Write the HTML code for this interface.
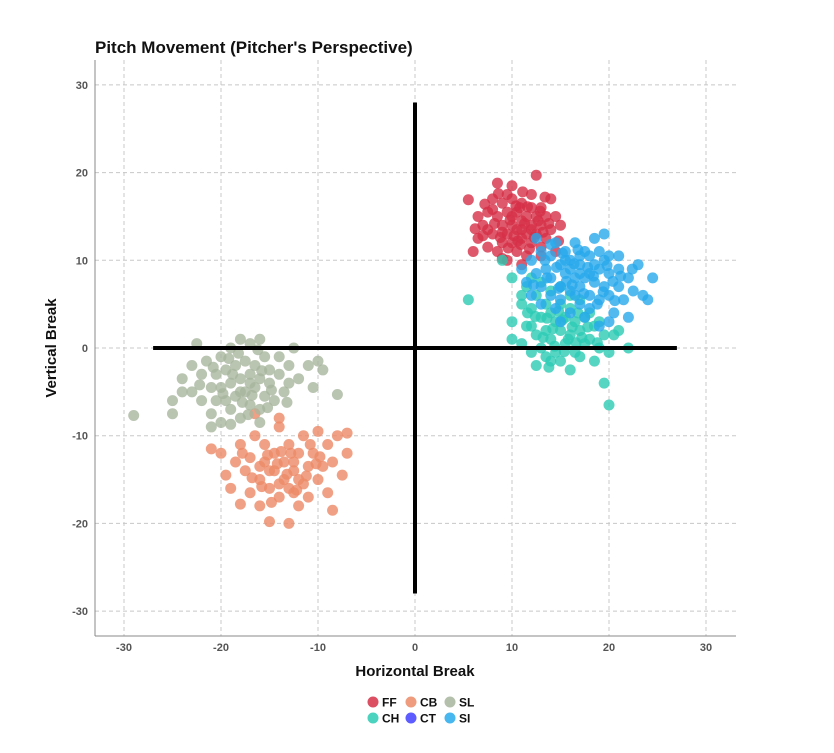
<!DOCTYPE html>
<html><head><meta charset="utf-8"><style>
body{margin:0;background:#fff;font-family:"Liberation Sans",sans-serif}
svg text{font-family:"Liberation Sans",sans-serif}
</style></head><body>
<svg id="chart" width="834" height="748" xmlns="http://www.w3.org/2000/svg">
<text x="95" y="53" font-size="17" font-weight="bold" fill="#111">Pitch Movement (Pitcher's Perspective)</text>
<g id="grid"></g>
<g id="axes"></g>
<g id="marks"></g>
<g id="zero"></g>
<text x="415" y="676" font-size="15" font-weight="bold" text-anchor="middle" fill="#111">Horizontal Break</text>
<text transform="translate(56,348) rotate(-90)" font-size="15" font-weight="bold" text-anchor="middle" fill="#111">Vertical Break</text>
<g id="legend"></g>
</svg>
<script>
const xTicks=[-30,-20,-10,0,10,20,30];
const yTicks=[-30,-20,-10,0,10,20,30];
const pitchTypes=["FF","CB","SL","CH","CT","SI"];
const pitchColors={FF:"#d62f47",CB:"#ec8a66",SL:"#a8b59e",CH:"#2ccbb4",CT:"#4040ff",SI:"#28a9ec"};
const ffData=[[5.5,16.9],[6,11],[6.5,12.5],[7,14],[7.5,15.5],[7.5,11.5],[8,13],[8,17],[8.5,18.8],[8.5,15],[9,12],[9,14],[9,16.5],[9.5,10],[9.5,13],[9.5,15.5],[10,12],[10,14],[10,17],[10,18.5],[10.5,11],[10.5,13.5],[10.5,15.5],[11,12.5],[11,14.5],[11,16.5],[11.5,10.5],[11.5,13],[11.5,15],[12,12],[12,14],[12,16],[12,17.5],[12.5,13],[12.5,15],[12.5,19.7],[13,11.5],[13,14],[13,16],[13.5,12.5],[13.5,15],[14,13.5],[14,17],[14.5,11],[14.5,15],[7,12.8],[8.5,11],[9,10.2],[11,9.5],[13,10.5],[6.5,15],[8,15.8],[10,15],[11,13.5],[12,13.5],[9.5,17.5],[15,14],[7.5,13.5],[10.8,16],[11.8,11.3],[9,13.2],[10.2,12.8],[11.3,14.2],[12.7,14.5],[8.2,14.2],[8.8,12.6],[9.6,11.4],[9.8,14.6],[10.4,16.2],[10.9,11.8],[11.6,16.1],[12.3,12.6],[13.2,13.2],[13.8,14.2],[7.2,16.4],[6.2,13.6],[8.6,17.6],[11.1,17.8],[13.4,17.2],[14.8,12.2],[12.9,15.6],[10.6,12.2]];
const cbData=[[-21,-11.5],[-20,-12],[-19.5,-14.5],[-19,-16],[-18.5,-13],[-18,-17.8],[-18,-11],[-17.5,-14],[-17,-16.5],[-17,-12.5],[-16.5,-10],[-16,-15],[-16,-18],[-15.5,-13],[-15.5,-11],[-15,-16],[-15,-19.8],[-14.5,-14],[-14.5,-12],[-14,-17],[-14,-9],[-13.5,-15],[-13.5,-13],[-13,-20],[-13,-11],[-12.5,-16.5],[-12.5,-14],[-12,-12],[-12,-18],[-11.5,-15.5],[-11.5,-10],[-11,-13.5],[-11,-17],[-10.5,-12],[-10,-15],[-10,-9.5],[-9.5,-13.5],[-9,-16.5],[-9,-11],[-8.5,-18.5],[-8.5,-13],[-8,-10],[-7.5,-14.5],[-7,-12],[-7,-9.7],[-16.5,-7.5],[-14,-8],[-12,-15],[-14,-15.5],[-15,-14],[-13,-16],[-16,-13.5],[-12.5,-13],[-15.2,-12.2],[-14.2,-13.2],[-13.2,-14.4],[-12.2,-16.2],[-11.2,-14.6],[-10.2,-13.2],[-13.8,-11.8],[-15.8,-15.8],[-16.8,-14.8],[-17.8,-12],[-14.8,-17.6],[-12.8,-12],[-10.8,-11],[-9.8,-12.4]];
const slData=[[-29,-7.7],[-25,-7.5],[-25,-6],[-24,-3.5],[-24,-5],[-23,-2],[-22.5,0.5],[-22,-3],[-22,-6],[-21.5,-1.5],[-21,-4.5],[-21,-7.5],[-20.5,-3],[-20.5,-6],[-20,-1],[-20,-4.5],[-20,-8.5],[-19.5,-2.5],[-19.5,-6],[-19,0],[-19,-4],[-19,-7],[-18.5,-2],[-18.5,-5.5],[-18,1],[-18,-3.5],[-18,-8],[-17.5,-1.5],[-17.5,-5],[-17,0.5],[-17,-3],[-17,-6.5],[-16.5,-2],[-16.5,-4.5],[-16,1],[-16,-3.5],[-16,-7],[-15.5,-1],[-15.5,-5.5],[-15,-2.5],[-15,-4],[-14.5,-6],[-14,-1],[-14,-3],[-13.5,-5],[-13,-2],[-13,-4],[-12.5,0],[-12,-3.5],[-11,-2],[-10.5,-4.5],[-10,-1.5],[-9.5,-2.5],[-8,-5.3],[-21,-9],[-16,-8.5],[-23,-5],[-19,-8.7],[-18,-5],[-17,-4],[-19.8,-5.2],[-18.8,-3],[-17.8,-6.2],[-16.8,-5.4],[-15.8,-2.6],[-14.8,-4.8],[-20.8,-2.2],[-18.2,-0.6],[-16.2,-0.2],[-22.2,-4.2],[-19.2,-1.2],[-17.2,-7.6],[-15.2,-6.8],[-13.2,-6.2]];
const chData=[[9,10],[5.5,5.5],[10,3],[10,1],[11,5],[11,0.5],[11.5,7],[11.5,2.5],[12,4.5],[12,-0.5],[12.5,6],[12.5,1.5],[12.5,-2],[13,3.5],[13,0],[13.5,5],[13.5,2],[13.5,-1],[14,4],[14,1],[14,6.5],[14.5,3],[14.5,-0.5],[15,5],[15,2],[15,-1.5],[15.5,3.5],[15.5,0.5],[16,4.5],[16,1.5],[16,-2.5],[16.5,3],[16.5,-0.5],[17,5.5],[17,2],[17,-1],[17.5,3.5],[17.5,0.5],[18,4],[18,1],[18.5,2.5],[18.5,-1.5],[19,3],[19,0],[19.5,-4],[19.5,1.5],[20,-6.5],[20,-0.5],[20.5,1.5],[21,2],[22,0],[10,8],[11,6],[12,8],[13,7.5],[14,-1.5],[16,6],[15,7],[12,2.5],[14.2,2.2],[15.2,3.2],[16.2,2.4],[13.6,3.4],[14.8,4.2],[15.8,1],[16.8,4],[17.2,1.2],[13.2,1.2],[12.4,3.6],[15.4,-0.4],[16.6,0.6],[14.4,0.2],[11.6,4],[13.8,-2.2],[17.8,2.4],[18.8,0.6]];
const ctData=[];
const siData=[[11,9],[11.5,7.5],[12,10],[12,6],[12.5,8.5],[13,11],[13,7],[13,5],[13.5,9],[14,10.5],[14,8],[14,6],[14.5,12],[14.5,4.5],[15,9.5],[15,7],[15,5.5],[15.5,11],[15.5,8.5],[16,10],[16,6.5],[16,4],[16.5,12],[16.5,8],[17,9.5],[17,7],[17,5],[17.5,11],[17.5,3.5],[18,8.5],[18,6],[18,10.5],[18.5,12.5],[18.5,7.5],[19,9],[19,5.5],[19,11],[19.5,13],[19.5,7],[20,8.5],[20,6],[20,10.5],[20.5,4],[21,9],[21,7],[21.5,5.5],[22,8],[22,3.5],[23,9.5],[23.5,6],[24,5.5],[24.5,8],[16,9],[17,10.5],[18,4.5],[15,3],[19,2.5],[20,3],[14,11.8],[12.5,12.5],[21,10.5],[22.5,6.5],[16.5,6],[17.5,8],[18.5,9.5],[15.5,10],[17,8.5],[19.5,10],[14.6,9.2],[15.6,7.6],[16.4,9.6],[17.4,6.2],[18.4,8.2],[19.4,6.4],[20.4,7.6],[13.6,8],[14.8,6.8],[16.2,7.2],[17.8,9.2],[18.8,5],[19.8,9.4],[21.2,8.2],[12.2,7.2],[15.2,10.8],[16.8,11.2],[20.6,5.4],[22.4,9],[13.4,10]];
const seriesData={FF:ffData,CB:cbData,SL:slData,CH:chData,CT:ctData,SI:siData};

const NS="http://www.w3.org/2000/svg";
const X=v=>415+v*9.7;
const Y=v=>348-v*8.77;
function mk(tag,attrs,parent){const e=document.createElementNS(NS,tag);for(const k in attrs)e.setAttribute(k,attrs[k]);parent.appendChild(e);return e;}
const grid=document.getElementById('grid'),axes=document.getElementById('axes'),marks=document.getElementById('marks'),legend=document.getElementById('legend'),zero=document.getElementById('zero');
xTicks.forEach(t=>{
  const l=mk('line',{x1:X(t),x2:X(t),y1:60,y2:636,stroke:'#c8c8c8','stroke-dasharray':'4,3'},grid);
  
  
  const tx=mk('text',{x:X(t),y:651,'font-size':11,'font-weight':'bold','text-anchor':'middle',fill:'#555'},axes);
  tx.textContent=t;
  
  
});
yTicks.forEach(t=>{
  const l=mk('line',{x1:95,x2:736,y1:Y(t),y2:Y(t),stroke:'#c8c8c8','stroke-dasharray':'4,3'},grid);
  
  
  const tx=mk('text',{x:88,y:Y(t)+4,'font-size':11,'font-weight':'bold','text-anchor':'end',fill:'#555'},axes);
  tx.textContent=t;
  
  
});
const ax1=mk('line',{x1:95,x2:95,y1:60,y2:636,stroke:'#888'},axes);


const ax2=mk('line',{x1:95,x2:736,y1:636,y2:636,stroke:'#888'},axes);


pitchTypes.forEach(p=>{
  seriesData[p].forEach(d=>{
    const c=mk('circle',{cx:X(d[0]),cy:Y(d[1]),r:5.5,fill:pitchColors[p],'fill-opacity':0.8},marks);
    
    
  });
});
const h0=mk('line',{x1:X(-27),x2:X(27),y1:Y(0),y2:Y(0),stroke:'#000','stroke-width':4},zero);


const v0=mk('line',{x1:X(0),x2:X(0),y1:Y(28),y2:Y(-28),stroke:'#000','stroke-width':4},zero);


const legPos={FF:[373,702],CB:[411,702],SL:[450,702],CH:[373,718],CT:[411,718],SI:[450,718]};
pitchTypes.forEach(p=>{
  const [lx,ly]=legPos[p];
  const c=mk('circle',{cx:lx,cy:ly,r:5.5,fill:pitchColors[p],'fill-opacity':0.85},legend);
  
  
  const t=mk('text',{x:lx+9,y:ly+4.5,'font-size':12,'font-weight':'bold',fill:'#111'},legend);
  t.textContent=p;
  
  
});
</script>
</body></html>
